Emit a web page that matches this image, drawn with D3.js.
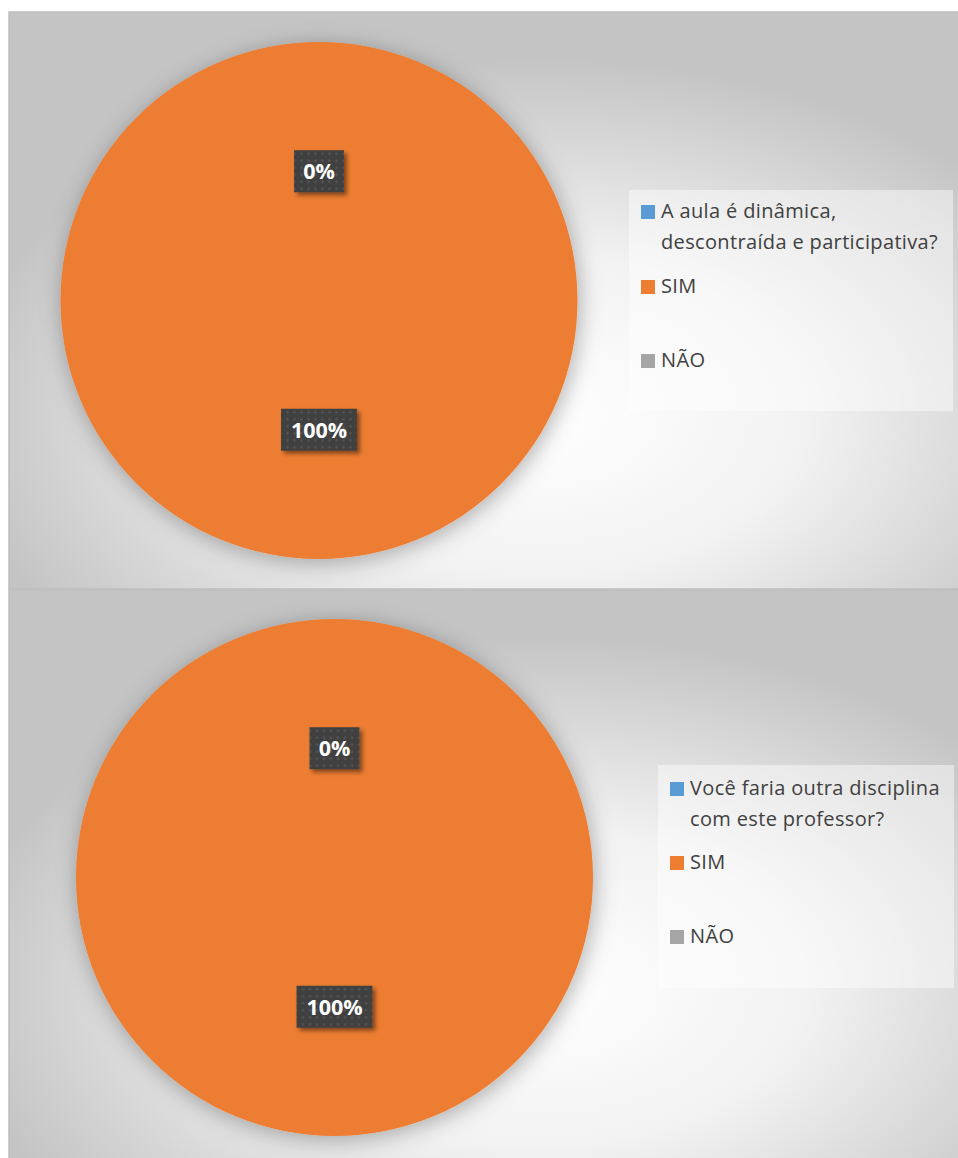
<!DOCTYPE html>
<html>
<head>
<meta charset="utf-8">
<script src="https://cdn.jsdelivr.net/npm/d3@7"></script>
<style>
  html, body { margin: 0; padding: 0; background: #fff; }
  svg { display: block; font-family: "Open Sans", "Noto Sans", sans-serif; }
</style>
</head>
<body>
<div id="container"></div>
<script>
// chart data
var titleLines = [["A aula é dinâmica,", "descontraída e participativa?"], ["Você faria outra disciplina", "com este professor?"]];
var categories = ["title", "SIM", "NÃO"];
var values1 = [0, 100, null];
var values2 = [0, 100, null];
var colors = ["#5b9bd5", "#ed7d31", "#a5a5a5"];

var width = 958, height = 1158;

var svg = d3.select("#container").append("svg")
  .attr("width", width)
  .attr("height", height);

var defs = svg.append("defs");

var bg = defs.append("radialGradient")
  .attr("id", "bg")
  .attr("cx", 0.56).attr("cy", 0.7).attr("r", 0.62)
  .attr("fx", 0.56).attr("fy", 0.7);
bg.append("stop").attr("offset", "0%").attr("stop-color", "#ffffff");
bg.append("stop").attr("offset", "45%").attr("stop-color", "#f2f2f2");
bg.append("stop").attr("offset", "100%").attr("stop-color", "#c4c4c4");

var shadow = defs.append("filter").attr("id", "pieShadow")
  .attr("x", "-20%").attr("y", "-20%").attr("width", "140%").attr("height", "140%");
shadow.append("feDropShadow")
  .attr("dx", 2).attr("dy", 4).attr("stdDeviation", 11)
  .attr("flood-color", "#000").attr("flood-opacity", 0.3);

var lblShadow = defs.append("filter").attr("id", "lblShadow")
  .attr("x", "-30%").attr("y", "-30%").attr("width", "170%").attr("height", "170%");
lblShadow.append("feDropShadow")
  .attr("dx", 3).attr("dy", 3).attr("stdDeviation", 2)
  .attr("flood-color", "#000").attr("flood-opacity", 0.45);

var dots = defs.append("pattern").attr("id", "dots")
  .attr("width", 7).attr("height", 7).attr("patternUnits", "userSpaceOnUse");
dots.append("rect").attr("width", 7).attr("height", 7).attr("fill", "#404040");
dots.append("circle").attr("cx", 3.5).attr("cy", 3.5).attr("r", 1.3).attr("fill", "#555555");

function drawPanel(opts) {
  var g = svg.append("g").attr("transform", "translate(" + opts.x + "," + opts.y + ")");

  g.append("rect")
    .attr("width", opts.w).attr("height", opts.h)
    .attr("fill", "url(#bg)")
    .attr("stroke", "#bdbdbd").attr("stroke-width", 1.5);

  var data = categories.map(function (c, i) {
    return { cat: c, value: opts.values[i], color: colors[i] };
  });

  var pie = d3.pie().sort(null).value(function (d) { return d.value || 0; });
  var arcs = pie(data);
  var arc = d3.arc().innerRadius(0).outerRadius(opts.r);

  var pg = g.append("g").attr("transform", "translate(" + opts.cx + "," + opts.cy + ")");

  pg.append("g").attr("filter", "url(#pieShadow)")
    .selectAll("path")
    .data(arcs)
    .join("path")
    .attr("d", arc)
    .attr("fill", function (d) { return d.data.color; });

  var fmt = d3.format(".0%");
  var labels = pg.selectAll("g.lbl")
    .data(arcs.filter(function (d) { return d.data.value !== null; }))
    .join("g")
    .attr("class", "lbl")
    .attr("transform", function (d) {
      var c = arc.centroid(d);
      return "translate(" + c[0] + "," + c[1] + ")";
    });

  labels.each(function (d) {
    var sel = d3.select(this);
    var txt = fmt(d.data.value / 100);
    var bw = txt.length > 2 ? 76 : 50;
    sel.append("rect")
      .attr("x", -bw / 2).attr("y", -21)
      .attr("width", bw).attr("height", 42)
      .attr("fill", "url(#dots)")
      .attr("filter", "url(#lblShadow)");
    sel.append("text")
      .attr("text-anchor", "middle")
      .attr("dy", "0.36em")
      .attr("fill", "#ffffff")
      .attr("font-weight", "bold")
      .attr("font-size", 21.5)
      .text(txt);
  });

  // legend
  var lg = g.append("g").attr("transform", "translate(" + opts.lx + "," + opts.ly + ")");
  lg.append("rect")
    .attr("width", opts.lw).attr("height", opts.lh)
    .attr("fill", "#ffffff").attr("fill-opacity", 0.45);

  var rows = [
    { color: colors[0], lines: opts.titleLines, y: opts.rowY[0] },
    { color: colors[1], lines: [categories[1]], y: opts.rowY[1] },
    { color: colors[2], lines: [categories[2]], y: opts.rowY[2] }
  ];

  var item = lg.selectAll("g.item").data(rows).join("g")
    .attr("class", "item")
    .attr("transform", function (d) { return "translate(12," + d.y + ")"; });

  item.append("rect")
    .attr("x", 0).attr("y", -13)
    .attr("width", 14).attr("height", 14)
    .attr("fill", function (d) { return d.color; });

  item.append("text")
    .attr("x", 20)
    .attr("fill", "#404040")
    .attr("font-size", 20)
    .attr("letter-spacing", 0.35)
    .selectAll("tspan")
    .data(function (d) { return d.lines; })
    .join("tspan")
    .attr("x", 20)
    .attr("y", function (d, i) { return i * 31; })
    .text(function (d) { return d; });
}

drawPanel({
  x: 9, y: 12, w: 950, h: 577,
  cx: 310, cy: 288.5, r: 258.5,
  values: values1, titleLines: titleLines[0],
  lx: 620, ly: 178, lw: 324, lh: 221,
  rowY: [28, 103, 177]
});

drawPanel({
  x: 9, y: 590, w: 950, h: 570,
  cx: 325.5, cy: 287.5, r: 258.5,
  values: values2, titleLines: titleLines[1],
  lx: 649, ly: 175, lw: 296, lh: 223,
  rowY: [30, 104, 178]
});
</script>
</body>
</html>
